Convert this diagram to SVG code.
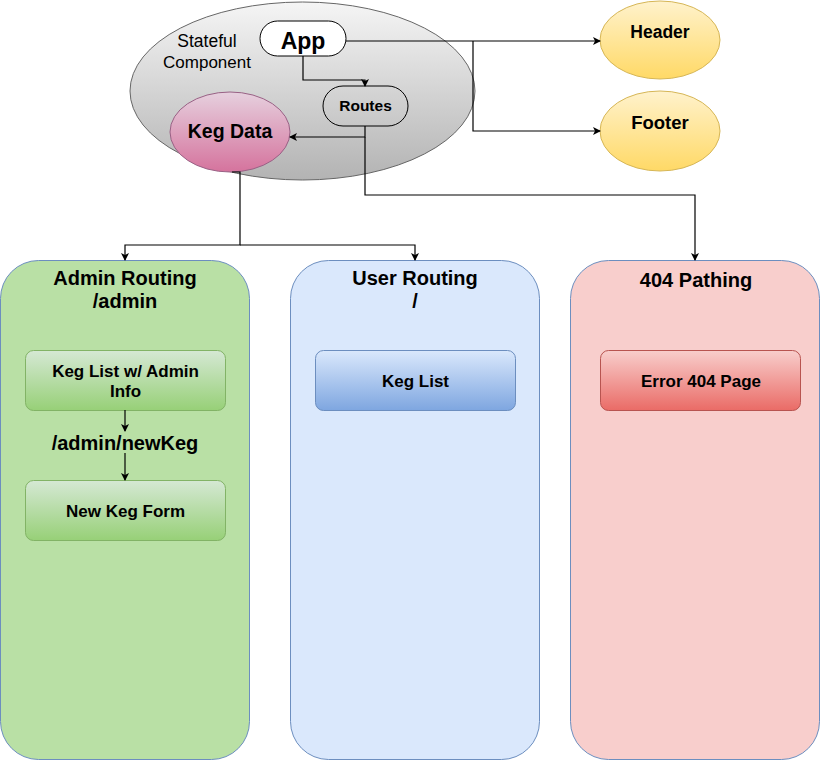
<svg xmlns="http://www.w3.org/2000/svg" width="821" height="761" viewBox="0 0 821 761">
<defs>
<linearGradient id="gGray" x1="0" y1="0" x2="0" y2="1"><stop offset="0" stop-color="#f5f5f5"/><stop offset="1" stop-color="#b3b3b3"/></linearGradient>
<linearGradient id="gPink" x1="0" y1="0" x2="0" y2="1"><stop offset="0" stop-color="#e6d0de"/><stop offset="1" stop-color="#d5739d"/></linearGradient>
<linearGradient id="gYellow" x1="0" y1="0" x2="0" y2="1"><stop offset="0" stop-color="#fff2cc"/><stop offset="1" stop-color="#ffd966"/></linearGradient>
<linearGradient id="gGreen" x1="0" y1="0" x2="0" y2="1"><stop offset="0" stop-color="#d5e8d4"/><stop offset="1" stop-color="#97d077"/></linearGradient>
<linearGradient id="gBlue" x1="0" y1="0" x2="0" y2="1"><stop offset="0" stop-color="#dae8fc"/><stop offset="1" stop-color="#7ea6e0"/></linearGradient>
<linearGradient id="gRed" x1="0" y1="0" x2="0" y2="1"><stop offset="0" stop-color="#f8cecc"/><stop offset="1" stop-color="#ea6b66"/></linearGradient>
<marker id="arr" markerWidth="8" markerHeight="8" refX="7" refY="4" orient="auto" markerUnits="userSpaceOnUse"><path d="M0,0 L8,4 L0,8 L2,4 Z" fill="#000"/></marker>
</defs>
<style>
text{font-family:"Liberation Sans",Arial,sans-serif;fill:#000;text-anchor:middle}
.b{font-weight:bold}
.t{font-size:20px;font-weight:bold}
.i{font-size:17px;font-weight:bold}
.conn path{fill:none;stroke:#000;stroke-width:1.2;marker-end:url(#arr)}
</style>
<rect width="821" height="761" fill="#fff"/>

<g id="stateful">
<ellipse cx="302.5" cy="91" rx="172.5" ry="89" fill="url(#gGray)" stroke="#666"/>
<text x="207" y="47" font-size="17.5">Stateful</text>
<text x="207" y="68" font-size="17">Component</text>
</g>
<g id="app">
<rect x="260" y="21" width="86" height="35" rx="17.5" fill="#fff" stroke="#000"/>
<text class="b" x="303" y="49" font-size="23">App</text>
</g>
<g id="routes">
<rect x="323" y="86" width="85" height="40" rx="20" fill="none" stroke="#000"/>
<text class="b" x="365.5" y="111" font-size="15.5">Routes</text>
</g>
<g id="kegdata">
<ellipse cx="230" cy="132" rx="60" ry="40" fill="url(#gPink)" stroke="#996185"/>
<text class="b" x="230" y="138" font-size="19.5">Keg Data</text>
</g>
<g id="header">
<ellipse cx="660" cy="40" rx="60" ry="39" fill="url(#gYellow)" stroke="#d6b656"/>
<text class="b" x="660" y="38" font-size="17.5">Header</text>
</g>
<g id="footer">
<ellipse cx="660" cy="131" rx="60" ry="40" fill="url(#gYellow)" stroke="#d6b656"/>
<text class="b" x="660" y="129" font-size="18.5">Footer</text>
</g>

<g id="admin">
<rect x="0.5" y="260.5" width="249" height="499" rx="38" fill="#b9e0a5" stroke="#6c8ebf"/>
<text class="t" x="125" y="285">Admin Routing</text>
<text class="t" x="125" y="308">/admin</text>
</g>
<g id="user">
<rect x="290.5" y="260.5" width="249" height="499" rx="38" fill="#dae8fc" stroke="#6c8ebf"/>
<text class="t" x="415" y="285">User Routing</text>
<text class="t" x="415" y="308">/</text>
</g>
<g id="notfound">
<rect x="570.5" y="260.5" width="249" height="499" rx="38" fill="#f8cecc" stroke="#6c8ebf"/>
<text class="t" x="696" y="287">404 Pathing</text>
</g>

<g id="keglistadmin">
<rect x="25.5" y="350.5" width="200" height="60" rx="8" fill="url(#gGreen)" stroke="#82b366"/>
<text class="i" x="125.5" y="377">Keg List w/ Admin</text>
<text class="i" x="125.5" y="397">Info</text>
</g>
<g id="newkegform">
<rect x="25.5" y="480.5" width="200" height="60" rx="8" fill="url(#gGreen)" stroke="#82b366"/>
<text class="i" x="125.5" y="517">New Keg Form</text>
</g>
<g id="keglist">
<rect x="315.5" y="350.5" width="200" height="60" rx="8" fill="url(#gBlue)" stroke="#6c8ebf"/>
<text class="i" x="415.5" y="387">Keg List</text>
</g>
<g id="error404">
<rect x="600.5" y="350.5" width="200" height="60" rx="8" fill="url(#gRed)" stroke="#b85450"/>
<text class="i" x="701" y="387">Error 404 Page</text>
</g>

<g id="connectors" class="conn">
<path d="M303,56 V80 H365 V86"/>
<path d="M346,41 H600"/>
<path d="M473,41 V131 H600"/>
<path d="M365,126 V137 H290"/>
<path d="M365,137 V195 H695 V260"/>
<path d="M232,172 H240 V245 H125 V260"/>
<path d="M240,245 H415 V260"/>
<path d="M125,410 V431"/>
<path d="M125,453 V480"/>
</g>
<text class="t" x="125" y="450">/admin/newKeg</text>
</svg>
